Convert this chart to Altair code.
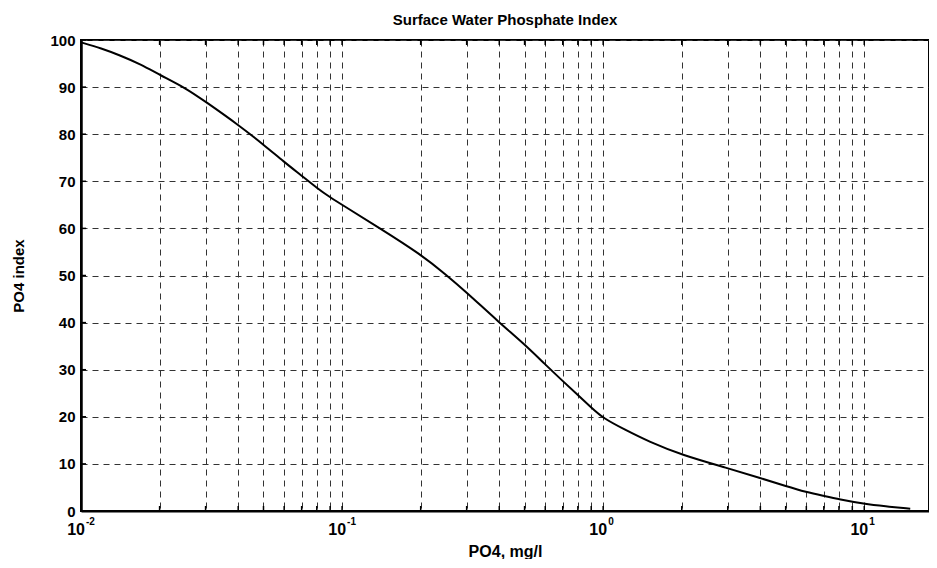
import altair as alt
import pandas as pd

# PO4 concentration (mg/l) and index
po4 = [0.01, 0.012, 0.014, 0.017, 0.02, 0.025, 0.03, 0.04, 0.05, 0.06, 0.07, 0.08,
       0.09, 0.1, 0.14, 0.2, 0.25, 0.3, 0.4, 0.5, 0.6, 0.7, 0.8, 0.9, 1.0, 1.2, 1.5,
       2, 3, 4, 5, 6, 7, 8, 10, 12, 15]
po4_index = [99.5, 98.2, 96.8, 94.8, 92.6, 89.9, 86.9, 82.0, 77.8, 74.1, 71.2, 68.6,
             66.6, 65.0, 60.0, 54.5, 50.2, 46.4, 40.0, 35.4, 31.1, 27.6, 24.6, 22.0, 19.7,
             17.4, 14.7, 11.9, 9.1, 7.0, 5.3, 4.0, 3.2, 2.5, 1.5, 1.0, 0.5]

y_ticks = [0, 10, 20, 30, 40, 50, 60, 70, 80, 90, 100]
x_grid = [0.02, 0.03, 0.04, 0.05, 0.06, 0.07, 0.08, 0.09, 0.1,
          0.2, 0.3, 0.4, 0.5, 0.6, 0.7, 0.8, 0.9, 1,
          2, 3, 4, 5, 6, 7, 8, 9, 10]
decades = [0.01, 0.1, 1, 10]
exponents = ["-2", "-1", "0", "1"]

W, H = 848, 471
FONT = "Liberation Sans"

curve = pd.DataFrame({"po4": po4, "idx": po4_index})
grid_df = pd.DataFrame({"x": x_grid})
ytick_df = pd.DataFrame({"y": y_ticks})
lab_df = pd.DataFrame({"x": decades, "base": ["10"] * len(decades), "exp": exponents})

xscale = alt.Scale(type="log", domain=[0.01, 17.7])
yscale = alt.Scale(domain=[0, 100])

line = alt.Chart(curve).mark_line(color="black", strokeWidth=2, interpolate="basis").encode(
    x=alt.X("po4:Q", scale=xscale,
            axis=alt.Axis(values=x_grid, labels=False, ticks=False, grid=True,
                          gridDash=[6, 5], gridColor="#333333", gridWidth=1,
                          domainColor="black", domainWidth=2,
                          title="PO4, mg/l", titleFont=FONT, titleFontSize=16,
                          titleFontWeight="bold", titleColor="black",
                          titleY=45, titleBaseline="alphabetic")),
    y=alt.Y("idx:Q", scale=yscale,
            axis=alt.Axis(values=y_ticks, ticks=False, grid=True,
                          gridDash=[6, 5], gridColor="#333333", gridWidth=1,
                          domainColor="black", domainWidth=2.5,
                          labelFont=FONT, labelFontSize=15, labelFontWeight="bold",
                          labelColor="black", labelPadding=6,
                          title="PO4 index", titleFont=FONT, titleFontSize=15,
                          titleFontWeight="bold", titleColor="black",
                          titleX=-63, titleBaseline="middle")),
)

bottom_ticks = alt.Chart(grid_df).mark_rule(color="black", strokeWidth=1.5).encode(
    x=alt.X("x:Q", scale=xscale), y=alt.value(H), y2=alt.value(H - 5))
top_ticks = alt.Chart(grid_df).mark_rule(color="black", strokeWidth=1.5).encode(
    x=alt.X("x:Q", scale=xscale), y=alt.value(0), y2=alt.value(5))
left_ticks = alt.Chart(ytick_df).mark_rule(color="black", strokeWidth=1.5).encode(
    y=alt.Y("y:Q", scale=yscale), x=alt.value(0), x2=alt.value(5))

base_lab = alt.Chart(lab_df).mark_text(
    font=FONT, fontSize=16, fontWeight="bold", color="black",
    align="right", baseline="alphabetic", dx=4).encode(
    x=alt.X("x:Q", scale=xscale), y=alt.value(H + 24), text="base:N")
exp_lab = alt.Chart(lab_df).mark_text(
    font=FONT, fontSize=10, fontWeight="bold", color="black",
    align="left", baseline="alphabetic", dx=5).encode(
    x=alt.X("x:Q", scale=xscale), y=alt.value(H + 14), text="exp:N")

chart = alt.layer(line, bottom_ticks, top_ticks, left_ticks, base_lab, exp_lab).properties(
    width=W, height=H,
    title=alt.TitleParams("Surface Water Phosphate Index", font=FONT, fontSize=15,
                          fontWeight="bold", color="black", anchor="middle",
                          frame="group", offset=5),
    autosize=alt.AutoSizeParams(type="none"),
    padding={"left": 73, "top": 32, "right": 0, "bottom": 48},
).configure_view(stroke="black", strokeWidth=2)

chart.save("out.html", embed_options={"renderer": "svg", "actions": False})
